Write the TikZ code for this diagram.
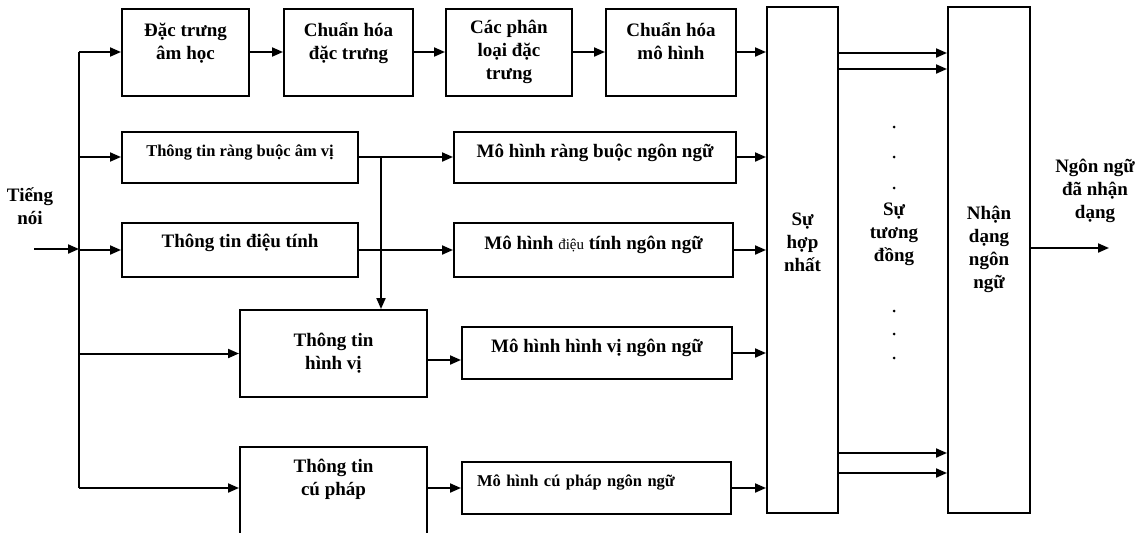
\documentclass[tikz,border=0pt]{standalone}
\usepackage{fontspec}
\setmainfont{Liberation Serif}
\usetikzlibrary{arrows.meta}
\newcommand{\bx}{\bfseries\fontsize{19}{23}\selectfont}
\newcommand{\sx}{\bfseries\fontsize{16.5}{20}\selectfont}

\begin{document}
\begin{tikzpicture}[x=1pt,y=-1pt,line width=2pt,
  blk/.style={draw,align=center,inner sep=0pt,font=\bx},
  arr/.style={-{Triangle[length=11pt,width=9pt]}}]
\useasboundingbox (0,0) rectangle (1144,533);
\clip (0,0) rectangle (1144,533);
% top row
\node[blk,minimum width=127pt,minimum height=87pt,text depth=21pt] (feat) at (185.5,52) {Đặc trưng\\âm học};
\node[blk,minimum width=129pt,minimum height=87pt,text depth=21pt] (normf) at (348.5,52) {Chuẩn hóa\\đặc trưng};
\node[blk,minimum width=126pt,minimum height=87pt] (clsf) at (509,52) {Các phân\\loại đặc\\trưng};
\node[blk,minimum width=130pt,minimum height=87pt,text depth=21pt] (normm) at (671,52) {Chuẩn hóa\\mô hình};
% tall blocks
\node[blk,minimum width=71pt,minimum height=506pt,text depth=36pt] (fuse) at (802.5,260) {Sự\\hợp\\nhất};
\node[blk,minimum width=82pt,minimum height=506pt,text depth=26pt] (recog) at (989,260) {Nhận\\dạng\\ngôn\\ngữ};
% info rows
\node[blk,font=\sx,minimum width=236pt,minimum height=51pt,text depth=12pt] (phon) at (240,157) {Thông tin ràng buộc âm vị};
\node[blk,minimum width=282pt,minimum height=51pt,text depth=12pt] (mphon) at (595,157) {Mô hình ràng buộc ngôn ngữ};
\node[blk,minimum width=236pt,minimum height=54pt,text depth=19pt] (pros) at (240,250) {Thông tin điệu tính};
\node[blk,minimum width=279pt,minimum height=54pt,text depth=14pt] (mpros) at (593.5,250) {Mô hình {\mdseries\fontsize{15}{23}\selectfont điệu} tính ngôn ngữ};
\node[blk,minimum width=187pt,minimum height=87pt] (morph) at (333.5,353.5) {Thông tin\\hình vị};
\node[blk,minimum width=270pt,minimum height=52pt,text depth=14pt] (mmorph) at (597,353) {Mô hình hình vị ngôn ngữ};
\node[blk,minimum width=187pt,minimum height=98pt,text depth=37pt] (synt) at (333.5,496) {Thông tin\\cú pháp};
\node[blk,font=\sx,align=left,text width=239pt,minimum width=269pt,minimum height=52pt,text depth=14pt] (msynt) at (596.5,488) {Mô hình cú pháp ngôn ngữ};
% labels
\node[font=\bx,align=center] (voice) at (30,206) {Tiếng\\nói};
\node[font=\bx,align=center] (sim) at (894,234) {Sự\\tương\\đồng};
\node[font=\bx,align=center] (lang) at (1095,191) {Ngôn ngữ\\đã nhận\\dạng};
% input and trunk
\coordinate (in) at (34,249);
\coordinate (tr) at (79,249);
\coordinate (out) at (1109,248);
\draw[arr] (in) -- (tr);
\draw (tr |- feat.west) -- (tr |- msynt.west);
\foreach \b in {feat,phon,pros,morph}
  \draw[arr] (tr |- \b.west) -- (\b.west);
\draw[arr] (tr |- msynt.west) -- (synt.west |- msynt.west);
% chains
\draw[arr] (feat) -- (normf);
\draw[arr] (normf) -- (clsf);
\draw[arr] (clsf) -- (normm);
\draw[arr] (normm.east) -- (normm.east -| fuse.west);
\draw[arr] (phon) -- (mphon);
\coordinate (br) at ([xshift=22pt]phon.east);
\draw[arr] (br) -- (br |- morph.north);
\draw[arr] (pros) -- (mpros);
\draw[arr] ([yshift=-7pt]mmorph.west -| morph.east) -- ([yshift=-7pt]mmorph.west);
\draw[arr] (msynt.west -| synt.east) -- (msynt.west);
\foreach \m in {mphon,mpros,mmorph,msynt}
  \draw[arr] (\m.east) -- (\m.east -| fuse.west);
% fusion to recognition
\foreach \d in {207,191,-193,-213}
  \draw[arr] ([yshift=\d pt]fuse.east) -- ([yshift=\d pt]recog.west);
\foreach \y in {127,157,188,311,334,358}
  \fill (894,\y) circle (1.5pt);
\draw[arr] (recog.east |- out) -- (out);
\end{tikzpicture}
\end{document}
